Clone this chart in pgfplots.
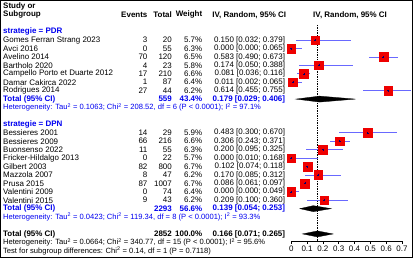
\documentclass[border=0pt]{standalone}
\usepackage{fontspec}
\setmainfont{Liberation Sans}
\usepackage{pgfplots}
\usepackage{pgfplotstable}
\pgfplotsset{compat=1.18}
\pgfkeys{/pgf/number format/assume math mode=true}

\definecolor{sqred}{RGB}{238,0,0}
\definecolor{cilin}{RGB}{105,105,255}
\definecolor{grpblue}{RGB}{0,0,240}

\newcommand\fs{\fontsize{8}{9.6}\selectfont}
\newcommand\fh{\fontsize{7.6}{9}\selectfont}

% study rows: row index, study, events, total, weight (%), proportion and 95% CI
\pgfplotstableread[col sep=comma]{
row,study,events,total,weight,est,lo,hi
0,Gomes Ferran Strang 2023,3,20,5.7,0.150,0.032,0.379
1,Avci 2016,0,55,6.3,0.000,0.000,0.065
2,Avelino 2014,70,120,6.5,0.583,0.490,0.673
3,Bartholo 2020,4,23,5.8,0.174,0.050,0.388
4,Campello Porto et Duarte 2012,17,210,6.6,0.081,0.036,0.116
5,Damar Cakirca 2022,1,87,6.4,0.011,0.002,0.065
6,Rodrigues 2014,27,44,6.2,0.614,0.455,0.755
}\pdr

\pgfplotstableread[col sep=comma]{
row,study,events,total,weight,est,lo,hi
11,Bessieres 2001,14,29,5.9,0.483,0.300,0.670
12,Bessieres 2009,66,216,6.6,0.306,0.243,0.371
13,Buonsenso 2022,11,55,6.3,0.200,0.095,0.325
14,Fricker-Hildalgo 2013,0,22,5.7,0.000,0.010,0.168
15,Gilbert 2003,82,800,6.7,0.102,0.074,0.118
16,Mazzola 2007,8,47,6.2,0.170,0.085,0.312
17,Prusa 2015,87,1007,6.7,0.086,0.061,0.097
18,Valentini 2009,0,74,6.4,0.000,0.000,0.049
19,Valentini 2015,9,43,6.2,0.209,0.100,0.360
}\dpn

\newcommand\pn[1]{\pgfmathprintnumber[fixed,fixed zerofill,precision=3]{#1}}
\newcommand\txt[4][]{\node[inner sep=0pt, font=\fs, #1] at (axis cs:{px(#2)},{ry(#3)}) {#4};}

% text columns of one subgroup, read from its table
\newcommand\studytext[1]{%
  \pgfplotstablegetrowsof{#1}%
  \pgfmathtruncatemacro\nrows{\pgfplotsretval-1}%
  \pgfplotsforeachungrouped \i in {0,...,\nrows}{%
    \pgfplotstablegetelem{\i}{row}\of{#1}\let\vr\pgfplotsretval
    \pgfplotstablegetelem{\i}{study}\of{#1}\let\vs\pgfplotsretval
    \pgfplotstablegetelem{\i}{events}\of{#1}\let\vev\pgfplotsretval
    \pgfplotstablegetelem{\i}{total}\of{#1}\let\vn\pgfplotsretval
    \pgfplotstablegetelem{\i}{weight}\of{#1}\let\vw\pgfplotsretval
    \pgfplotstablegetelem{\i}{est}\of{#1}\let\ve\pgfplotsretval
    \pgfplotstablegetelem{\i}{lo}\of{#1}\let\vl\pgfplotsretval
    \pgfplotstablegetelem{\i}{hi}\of{#1}\let\vh\pgfplotsretval
    \edef\temp{%
      \noexpand\txt[anchor=west]{3}{\vr}{\vs}%
      \noexpand\txt[anchor=east]{148}{\vr}{\vev}%
      \noexpand\txt[anchor=east]{172.5}{\vr}{\vn}%
      \noexpand\txt[anchor=east]{203}{\vr}{\noexpand\pgfmathprintnumber[fixed,fixed zerofill,precision=1]{\vw}\noexpand\%}%
      \noexpand\txt[anchor=east]{286}{\vr}{\noexpand\pn{\ve} [\noexpand\pn{\vl}; \noexpand\pn{\vh}]}%
    }\temp
  }%
}

% CI lines, weighted squares and centre marks of one subgroup
\newcommand\studies[1]{%
  \addplot[draw=none, mark=none,
    error bars/.cd, x dir=both, x explicit, error mark=none,
    error bar style={draw=cilin, line width=0.7pt}]
    table[x=est, y expr=ry(\thisrow{row}),
      x error plus expr=\thisrow{hi}-\thisrow{est},
      x error minus expr=\thisrow{est}-\thisrow{lo}]{#1};
  \addplot[scatter, only marks, mark=square*,
    scatter/use mapped color={draw=sqred, fill=sqred},
    visualization depends on={\thisrow{weight} \as \wt},
    scatter/@pre marker code/.append style={/tikz/mark size={4.3*sqrt(\wt/6.2)}}]
    table[x=est, y expr=ry(\thisrow{row})]{#1};
  \addplot[only marks, mark=+, mark size=1pt,
    mark options={draw=blue!45!black, line width=0.4pt}]
    table[x=est, y expr=ry(\thisrow{row})]{#1};
  \studytext{#1}
}

\begin{document}
\begin{tikzpicture}[declare function={px(\x)=(\x-292)/158.6; ry(\r)=-(40.2+8.45*\r);}]
\begin{axis}[
  scale only axis, width=111.02pt, height=216.7pt,
  xmin=0, xmax=0.7, ymin=-241.7, ymax=-25,
  clip=false,
  axis x line*=bottom, axis y line=none,
  x axis line style={-, line width=0.6pt},
  xtick={0,0.1,0.2,0.3,0.4,0.5,0.6,0.7},
  xticklabels={0,0.1,0.2,0.3,0.4,0.5,0.6,0.7},
  xticklabel style={font=\fs, inner sep=1pt, yshift=-0.5pt},
  tick align=outside, major tick length=3pt,
  tick style={black, line width=0.6pt},
  ytick=\empty,
]
% reference line at the overall estimate
\addplot[black, line width=0.5pt, dash pattern=on 0.7pt off 1pt]
  coordinates {(0.166,-25) (0.166,-241.7)};

\studies{\pdr}
\studies{\dpn}

% pooled estimates
\addplot[fill=black, draw=black, line width=0.3pt]
  coordinates {(0.029,-99.35) (0.179,-96.35) (0.406,-99.35) (0.179,-102.35)} -- cycle;
\addplot[fill=black, draw=black, line width=0.3pt]
  coordinates {(0.054,-209.2) (0.139,-206.2) (0.253,-209.2) (0.139,-212.2)} -- cycle;
\addplot[fill=black, draw=black, line width=0.3pt]
  coordinates {(0.071,-234.55) (0.166,-231.55) (0.265,-234.55) (0.166,-237.55)} -- cycle;

% headings
\txt[anchor=west, font=\fs\bfseries]{3}{-4}{Study or}
\txt[anchor=west, font=\fs\bfseries]{3}{-3}{Subgroup}
\txt[anchor=east, font=\fs\bfseries]{148}{-3}{Events}
\txt[anchor=east, font=\fs\bfseries]{172.5}{-3}{Total}
\txt[anchor=east, font=\fs\bfseries]{203}{-3}{Weight}
\txt[anchor=east, font=\fs\bfseries]{287}{-3}{IV, Random, 95\% CI}
\txt[anchor=center, font=\fs\bfseries]{351}{-3}{IV, Random, 95\% CI}

% subgroup PDR
\txt[anchor=west, font=\fs\bfseries, text=grpblue]{3}{-1}{strategie = PDR}
\txt[anchor=west, font=\fs\bfseries, text=grpblue]{3}{7}{Total (95\% CI)}
\txt[anchor=east, font=\fs\bfseries, text=grpblue]{172.5}{7}{559}
\txt[anchor=east, font=\fs\bfseries, text=grpblue]{203}{7}{43.4\%}
\txt[anchor=east, font=\fs\bfseries, text=grpblue]{286}{7}{0.179 [0.029; 0.406]}
\txt[anchor=west, font=\fh, text=grpblue]{3}{8}{Heterogeneity: Tau\textsuperscript{2} = 0.1063; Chi\textsuperscript{2} = 208.52, df = 6 (P < 0.0001); I\textsuperscript{2} = 97.1\%}

% subgroup DPN
\txt[anchor=west, font=\fs\bfseries, text=grpblue]{3}{10}{strategie = DPN}
\txt[anchor=west, font=\fs\bfseries, text=grpblue]{3}{20}{Total (95\% CI)}
\txt[anchor=east, font=\fs\bfseries, text=grpblue]{172.5}{20}{2293}
\txt[anchor=east, font=\fs\bfseries, text=grpblue]{203}{20}{56.6\%}
\txt[anchor=east, font=\fs\bfseries, text=grpblue]{286}{20}{0.139 [0.054; 0.253]}
\txt[anchor=west, font=\fh, text=grpblue]{3}{21}{Heterogeneity: Tau\textsuperscript{2} = 0.0423; Chi\textsuperscript{2} = 119.34, df = 8 (P < 0.0001); I\textsuperscript{2} = 93.3\%}

% overall
\txt[anchor=west, font=\fs\bfseries]{3}{23}{Total (95\% CI)}
\txt[anchor=east, font=\fs\bfseries]{172.5}{23}{2852}
\txt[anchor=east, font=\fs\bfseries]{203}{23}{100.0\%}
\txt[anchor=east, font=\fs\bfseries]{286}{23}{0.166 [0.071; 0.265]}
\txt[anchor=west, font=\fh]{3}{24}{Heterogeneity: Tau\textsuperscript{2} = 0.0664; Chi\textsuperscript{2} = 340.77, df = 15 (P < 0.0001); I\textsuperscript{2} = 95.6\%}
\txt[anchor=west, font=\fh]{3}{25}{Test for subgroup differences: Chi\textsuperscript{2} = 0.14, df = 1 (P = 0.7118)}

% frame
\draw[line width=1pt] (axis cs:{px(0.5)},-0.5) rectangle (axis cs:{px(413.5)},-258.5);
\end{axis}
\end{tikzpicture}
\end{document}
